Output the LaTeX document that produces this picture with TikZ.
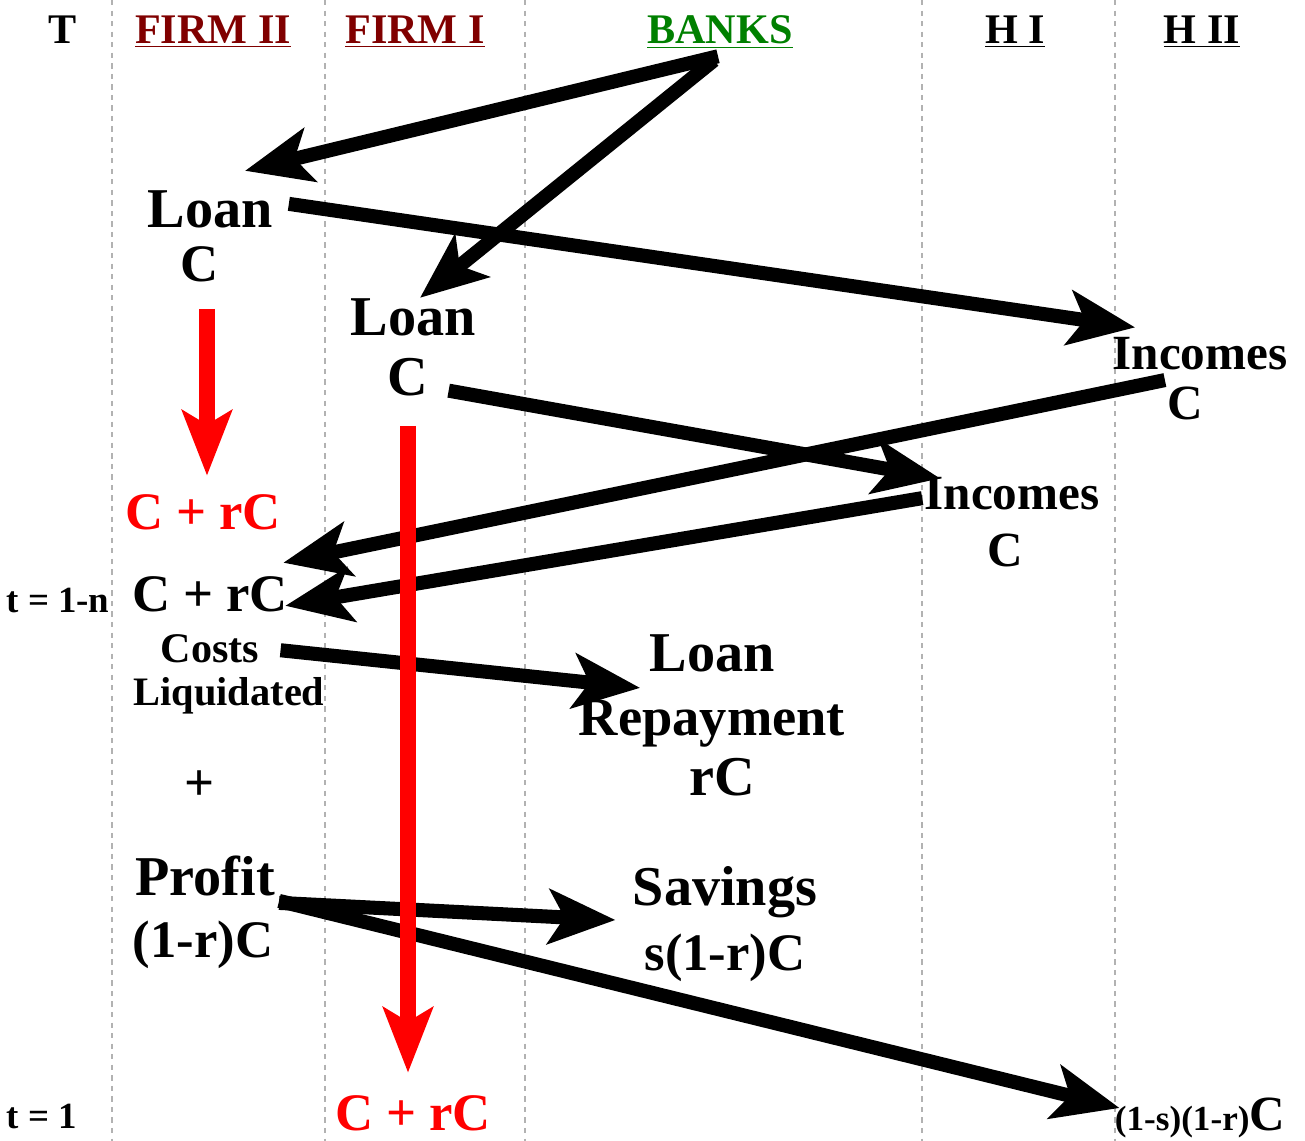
\documentclass[tikz,border=0pt]{standalone}
\usepackage{fontspec}
\setmainfont{Liberation Serif}
\usetikzlibrary{arrows.meta}
\definecolor{firmred}{RGB}{128,0,0}
\definecolor{bankgreen}{RGB}{0,128,0}

\begin{document}
\begin{tikzpicture}[x=0.02cm,y=-0.02cm,
  head/.style={font=\fontsize{24}{28}\selectfont\bfseries,anchor=base,inner sep=0pt},
  txt/.style={font=\fontsize{32}{36}\selectfont\bfseries,anchor=base,inner sep=0pt},
  sum/.style={font=\fontsize{30}{34}\selectfont\bfseries,anchor=base,inner sep=0pt},
  inc/.style={font=\fontsize{28}{32}\selectfont\bfseries,anchor=base,inner sep=0pt},
  small/.style={font=\fontsize{23}{26}\selectfont\bfseries,anchor=base,inner sep=0pt},
  flow/.style={-{Stealth[length=38pt,width=31pt,inset=9pt]},line width=8pt},
  cost/.style={-{Stealth[length=37pt,width=28pt,inset=8pt]},line width=9pt,red},
  lane/.style={gray!60,dashed,line width=0.6pt}]
\useasboundingbox (0,0) rectangle (1305,1141);

% lanes
\foreach \x in {112,325,525,922,1115}
  \draw[lane] (\x,0) -- (\x,1141);

% headers
\node[head] (T) at (63,44) {T};
\node[head,firmred] (firmB) at (213,44) {\underline{FIRM II}};
\node[head,firmred] (firmA) at (415,44) {\underline{FIRM I}};
\node[head,bankgreen] (banks) at (720,44) {\underline{BANKS}};
\node[head] (hA) at (1015,44) {\underline{H I}};
\node[head] (hB) at (1202,44) {\underline{H II}};

% loans
\node[txt] (loanB) at (210,228) {Loan};
\node[sum] (loanBc) at (200,282) {C};
\node[txt] (loanA) at (413,336) {Loan};
\node[txt] (loanAc) at (408,396) {C};

% incomes
\node[inc] (incB) at (1200,370) {Incomes};
\node[inc] (incBc) at (1185,420) {C};
\node[inc] (incA) at (1012,510) {Incomes};
\node[inc] (incAc) at (1005,567) {C};

% firm II at t = 1-n
\node[sum,red] (redB) at (203,530) {C + rC};
\node[head,font=\fontsize{21}{24}\selectfont\bfseries] (tn) at (58,613) {t = 1-n};
\node[sum] (cr) at (210,612) {C + rC};
\node[head] (costs) at (210,663) {Costs};
\node[small] (liq) at (229,705) {Liquidated};
\node[sum] (plus) at (200,800) {+};
\node[txt] (profit) at (205,895) {Profit};
\node[sum] (profitc) at (203,957) {(1-r)C};

% banks side
\node[txt] (repL) at (712,672) {Loan};
\node[head,font=\fontsize{31}{34}\selectfont\bfseries] (repR) at (712,735) {Repayment};
\node[txt] (repC) at (722,795) {rC};
\node[txt] (savings) at (725,905) {Savings};
\node[sum] (savC) at (725,970) {s(1-r)C};

% t = 1
\node[head,font=\fontsize{21}{24}\selectfont\bfseries] (tone) at (42,1128) {t = 1};
\node[sum,red] (redA) at (413,1130) {C + rC};
\node[anchor=base,inner sep=0pt,font=\bfseries] (fin) at (1200,1130)
  {{\fontsize{20}{22}\selectfont (1-s)(1-r)}{\fontsize{28}{30}\selectfont C}};

% loans out of the banks
\draw[flow] ([shift={(-2,8)}]banks.south) -- ([shift={(35,-20)}]loanB.north);
\draw[flow] ([shift={(-6,12)}]banks.south) -- ([shift={(7,-1)}]loanA.north);
% wages
\draw[flow] ([shift={(16,-6)}]loanB.east) -- ([shift={(23,-10)}]incB.north west);
\draw[flow] ([shift={(20,13)}]loanAc.east) -- ([shift={(16,1)}]incA.north west);
% spending
\draw[flow] ([shift={(-2,-7)}]incBc.north west) -- ([shift={(-5,-14)}]cr.north east);
\draw[flow] ([shift={(-2,4)}]incA.west) -- ([shift={(-3,11)}]cr.east);
% repayment and profit
\draw[flow] ([shift={(21,1)}]costs.east) -- ([shift={(-9,15)}]repL.south west);
\draw[flow] ([shift={(4,7)}]profit.south east) -- ([shift={(-17,15)}]savings.base west);
\draw[flow] ([shift={(4,5)}]profit.south east) -- ([shift={(5,-22)}]fin.base west);

% production time
\draw[cost] ([shift={(7,26)}]loanBc.south) -- ([shift={(4,-19)}]redB.north);
\draw[cost] ([shift={(0,29)}]loanAc.south) -- ([shift={(-5,-22)}]redA.north);
\end{tikzpicture}
\end{document}
